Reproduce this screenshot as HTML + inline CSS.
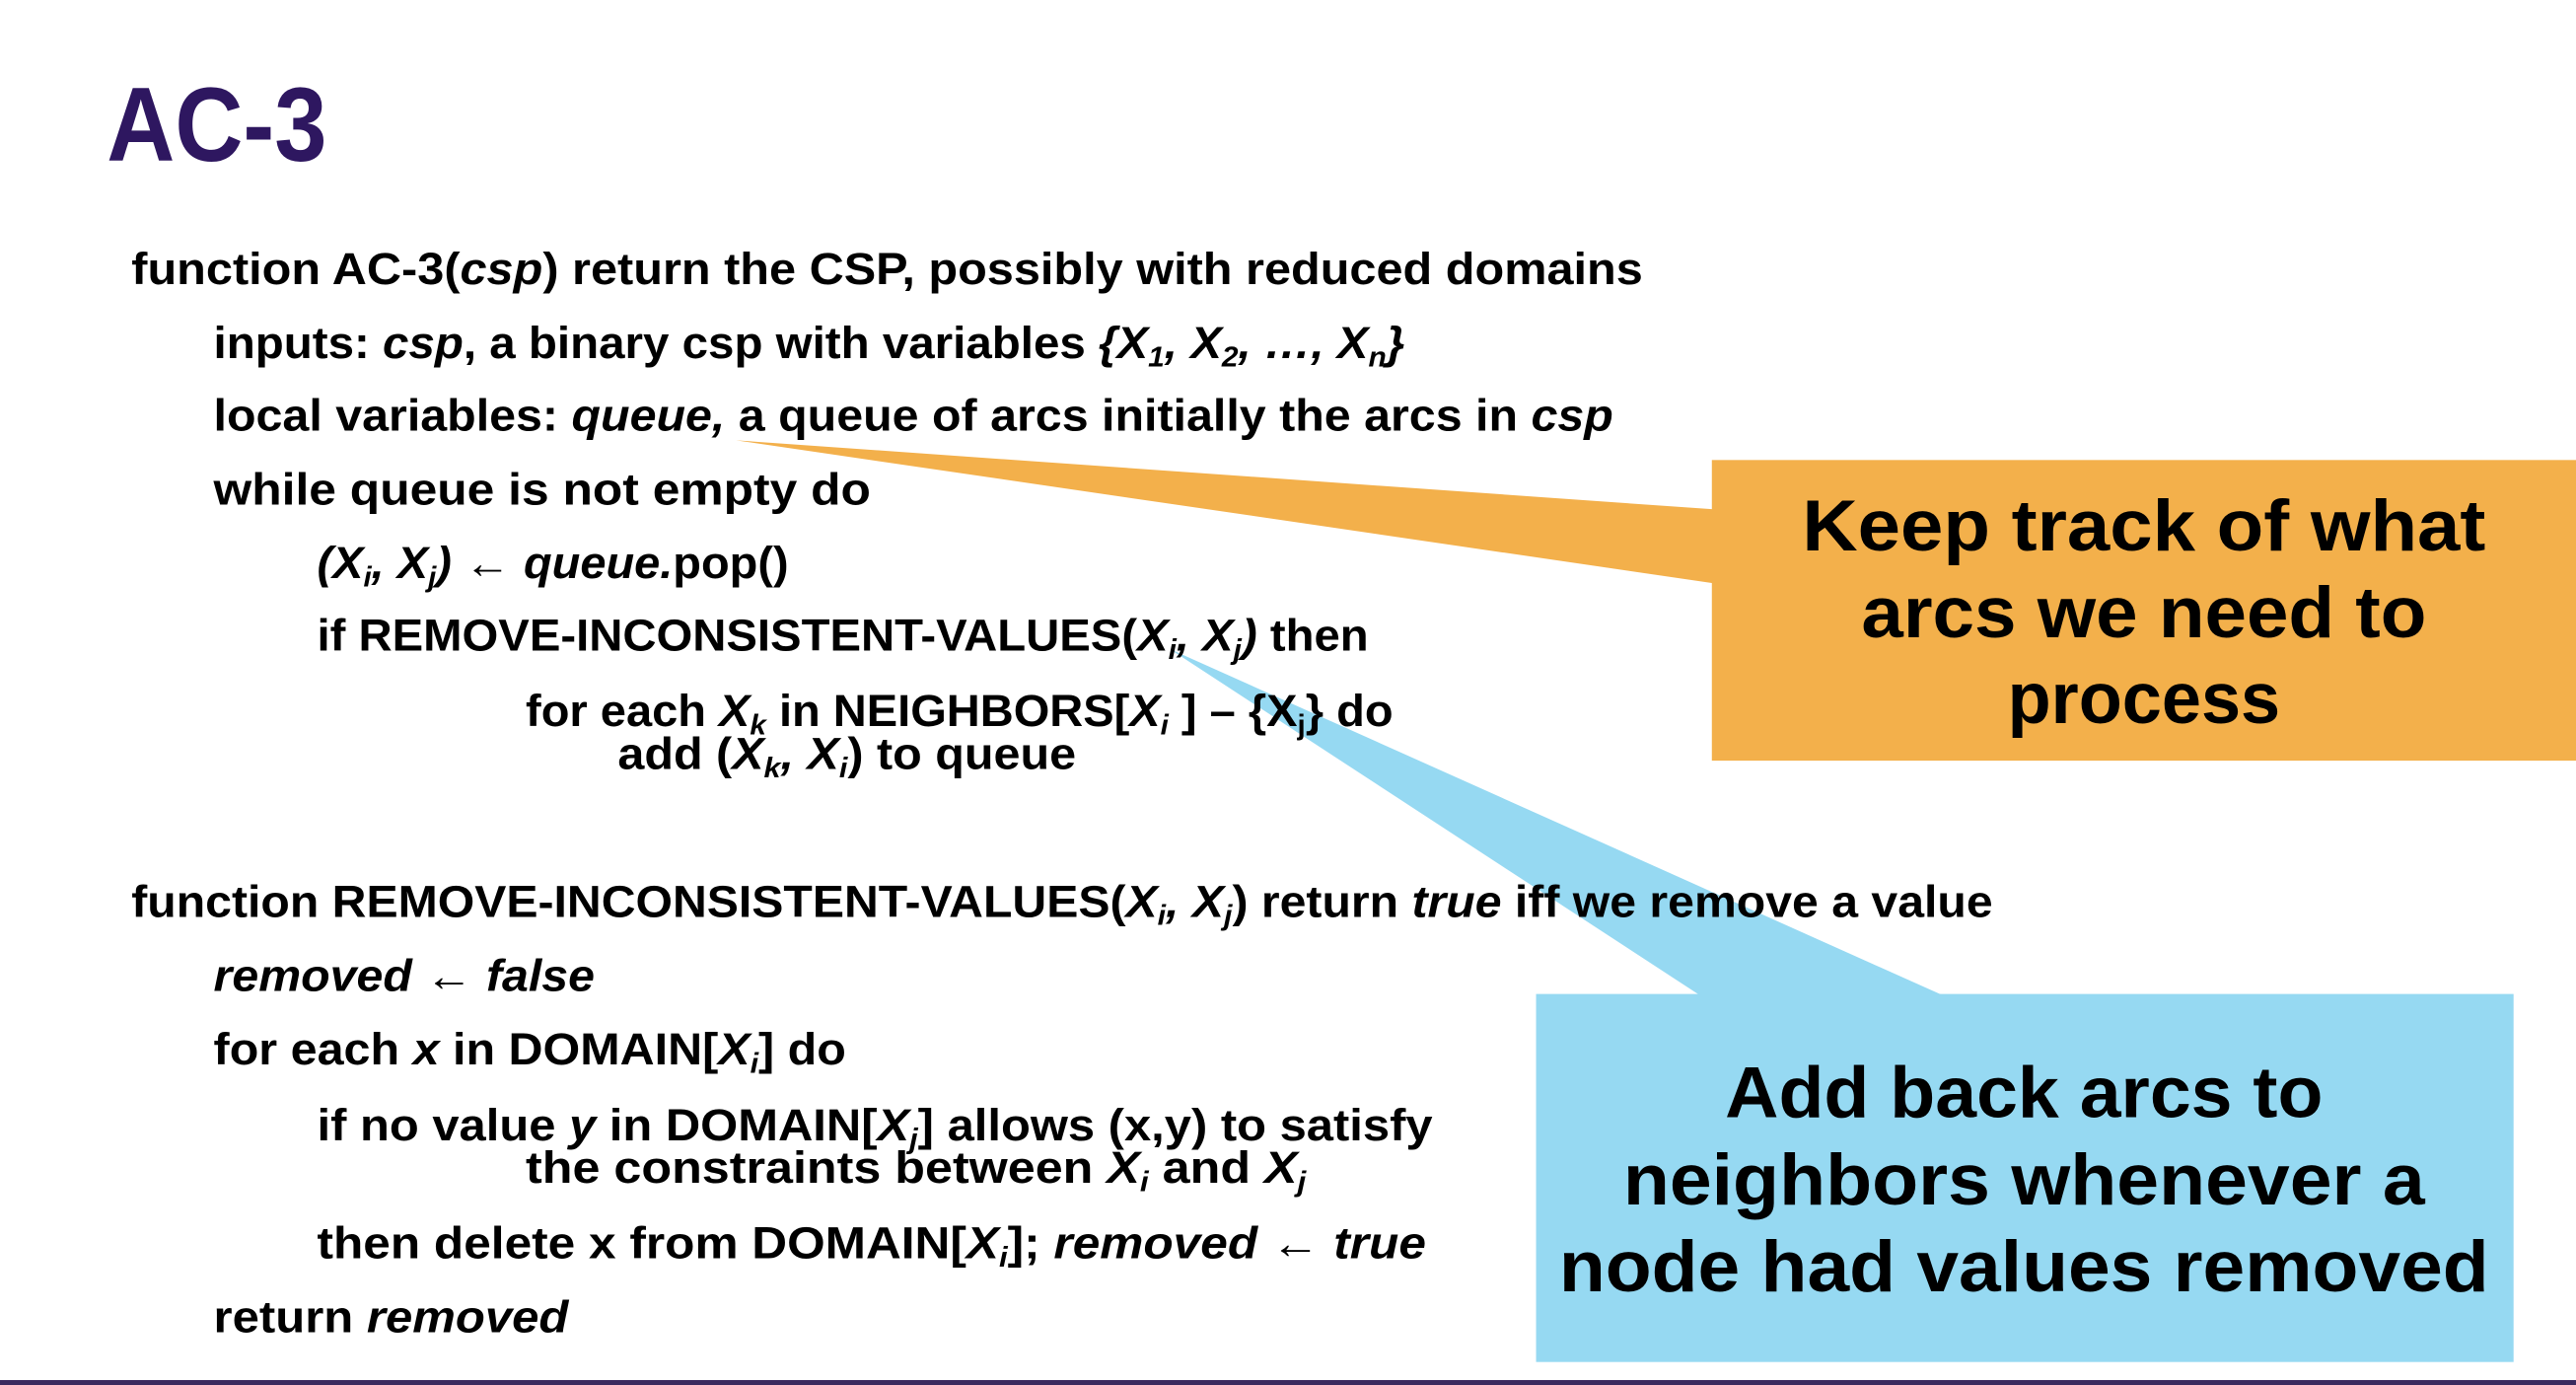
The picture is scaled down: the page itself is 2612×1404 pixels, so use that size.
<!DOCTYPE html>
<html><head><meta charset="utf-8"><style>
html,body{margin:0;padding:0;background:#fff;}
svg{display:block;}
text{font-family:"Liberation Sans",sans-serif;font-weight:bold;fill:#000;}
</style></head><body>
<svg width="2612" height="1404" viewBox="0 0 1568 843" preserveAspectRatio="none" xmlns="http://www.w3.org/2000/svg">
<rect x="0" y="0" width="1568" height="843" fill="#fff"/>
<!-- callout wedges -->
<polygon points="448,268 1043,310 1043,355" fill="#f3b04b"/>
<polygon points="712,395 1035,606 1183,606" fill="#96d9f2"/>
<rect x="1042" y="280" width="526" height="183" fill="#f3b04b"/>
<rect x="935" y="605" width="595" height="224" fill="#96d9f2"/>
<rect x="0" y="840" width="1568" height="3" fill="#3a2a5e"/>

<text x="65" y="98" font-size="64" fill="#2e1760" style="fill:#2e1760" textLength="134" lengthAdjust="spacingAndGlyphs">AC-3</text>

<g font-size="27">
<text x="80" y="173" textLength="920" lengthAdjust="spacingAndGlyphs">function AC-3(<tspan font-style="italic">csp</tspan>) return the CSP, possibly with reduced domains</text>
<text x="130" y="218" textLength="725" lengthAdjust="spacingAndGlyphs">inputs: <tspan font-style="italic">csp</tspan>, a binary csp with variables <tspan font-style="italic">{X<tspan font-size="17" dy="5">1</tspan><tspan dy="-5">, X</tspan><tspan font-size="17" dy="5">2</tspan><tspan dy="-5">, …, X</tspan><tspan font-size="17" dy="5">n</tspan><tspan dy="-5">}</tspan></tspan></text>
<text x="130" y="262" textLength="852" lengthAdjust="spacingAndGlyphs">local variables: <tspan font-style="italic">queue,</tspan> a queue of arcs initially the arcs in <tspan font-style="italic">csp</tspan></text>
<text x="130" y="307" textLength="400" lengthAdjust="spacingAndGlyphs">while queue is not empty do</text>
<text x="193" y="352" textLength="287" lengthAdjust="spacingAndGlyphs"><tspan font-style="italic">(X<tspan font-size="17" dy="5">i</tspan><tspan dy="-5">, X</tspan><tspan font-size="17" dy="5">j</tspan><tspan dy="-5">)</tspan></tspan> ← <tspan font-style="italic">queue.</tspan>pop()</text>
<text x="193" y="396" textLength="640" lengthAdjust="spacingAndGlyphs">if REMOVE-INCONSISTENT-VALUES(<tspan font-style="italic">X<tspan font-size="17" dy="5">i</tspan><tspan dy="-5">, X</tspan><tspan font-size="17" dy="5">j</tspan><tspan dy="-5">)</tspan></tspan>  then</text>
<text x="320" y="442" textLength="528" lengthAdjust="spacingAndGlyphs">for each <tspan font-style="italic">X<tspan font-size="17" dy="5">k</tspan></tspan><tspan dy="-5"> in NEIGHBORS[</tspan><tspan font-style="italic">X<tspan font-size="17" dy="5">i</tspan></tspan><tspan dy="-5"> ] – {X</tspan><tspan font-size="17" dy="5">j</tspan><tspan dy="-5">} do</tspan></text>
<text x="376" y="468" textLength="279" lengthAdjust="spacingAndGlyphs">add (<tspan font-style="italic">X<tspan font-size="17" dy="5">k</tspan><tspan dy="-5">, X</tspan><tspan font-size="17" dy="5">i</tspan></tspan><tspan dy="-5">) to queue</tspan></text>

<text x="80" y="558" textLength="1133" lengthAdjust="spacingAndGlyphs">function REMOVE-INCONSISTENT-VALUES(<tspan font-style="italic">X<tspan font-size="17" dy="5">i</tspan><tspan dy="-5">, X</tspan><tspan font-size="17" dy="5">j</tspan></tspan><tspan dy="-5">) return </tspan><tspan font-style="italic">true</tspan> iff we remove a value</text>
<text x="130" y="603" textLength="232" lengthAdjust="spacingAndGlyphs" font-style="italic">removed ←  false</text>
<text x="130" y="648" textLength="385" lengthAdjust="spacingAndGlyphs">for each <tspan font-style="italic">x</tspan> in DOMAIN[<tspan font-style="italic">X<tspan font-size="17" dy="5">i</tspan></tspan><tspan dy="-5">] do</tspan></text>
<text x="193" y="694" textLength="679" lengthAdjust="spacingAndGlyphs">if no value <tspan font-style="italic">y</tspan> in DOMAIN[<tspan font-style="italic">X<tspan font-size="17" dy="5">j</tspan></tspan><tspan dy="-5">] allows (x,y) to satisfy</tspan></text>
<text x="320" y="720" textLength="475" lengthAdjust="spacingAndGlyphs">the constraints between <tspan font-style="italic">X<tspan font-size="17" dy="5">i</tspan></tspan><tspan dy="-5"> and </tspan><tspan font-style="italic">X<tspan font-size="17" dy="5">j</tspan></tspan></text>
<text x="193" y="766" textLength="675" lengthAdjust="spacingAndGlyphs">then delete x from DOMAIN[<tspan font-style="italic">X<tspan font-size="17" dy="5">i</tspan></tspan><tspan dy="-5">]; </tspan><tspan font-style="italic">removed ←  true</tspan></text>
<text x="130" y="811" textLength="216" lengthAdjust="spacingAndGlyphs">return <tspan font-style="italic">removed</tspan></text>
</g>

<g font-size="44" text-anchor="middle">
<text x="1305" y="335" textLength="416" lengthAdjust="spacingAndGlyphs">Keep track of what</text>
<text x="1305" y="388" textLength="344" lengthAdjust="spacingAndGlyphs">arcs we need to</text>
<text x="1305" y="440" textLength="166" lengthAdjust="spacingAndGlyphs">process</text>
<text x="1232" y="680" textLength="364" lengthAdjust="spacingAndGlyphs">Add back arcs to</text>
<text x="1232" y="733" textLength="488" lengthAdjust="spacingAndGlyphs">neighbors whenever a</text>
<text x="1232" y="786" textLength="566" lengthAdjust="spacingAndGlyphs">node had values removed</text>
</g>
</svg>
</body></html>
